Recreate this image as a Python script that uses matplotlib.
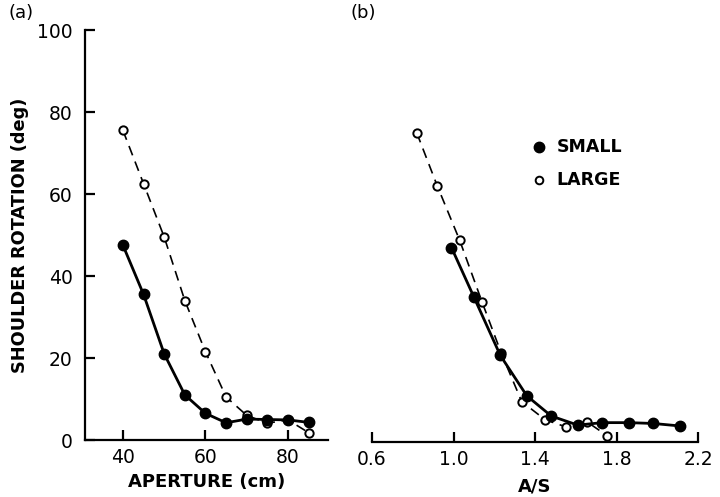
import matplotlib.pyplot as plt

# aperture (cm) for both shoulder groups
aperture = [40, 45, 50, 55, 60, 65, 70, 75, 80, 85]
small_rot = [47.5, 35.5, 21, 11, 6.5, 4.2, 5.1, 5.0, 4.9, 4.3]
large_rot = [75.5, 62.5, 49.5, 34, 21.5, 10.5, 6.0, 4.1, 4.9, 1.8]

# aperture / shoulder width
small_as = [0.99, 1.10, 1.23, 1.36, 1.48, 1.61, 1.73, 1.86, 1.98, 2.11]
large_as = [0.82, 0.92, 1.03, 1.14, 1.235, 1.335, 1.45, 1.55, 1.655, 1.755]
small_rot_as = [47.2, 35.2, 21, 11.2, 6.3, 4.1, 4.7, 4.7, 4.5, 3.9]
large_rot_as = [75, 62.2, 49, 34, 21.5, 9.8, 5.4, 3.7, 4.9, 1.5]

yticks = [0, 20, 40, 60, 80, 100]
xticks_a = [40, 60, 80]
xticks_b = [0.6, 1.0, 1.4, 1.8, 2.2]
xticklabels_b = ["0.6", "1.0", "1.4", "1.8", "2.2"]

plt.rcParams["font.family"] = ["DejaVu Sans"]
fig = plt.figure(figsize=(7.2, 4.97), dpi=100)
ax1 = fig.add_axes([85 / 720, 57 / 497, 243 / 720, 410 / 497])
ax2 = fig.add_axes([372 / 720, 55 / 497, 326 / 720, 412 / 497])

small_kw = dict(color="black", lw=2.0, marker="o", ms=7.5, mfc="black",
                mec="black", zorder=3, clip_on=False)
large_kw = dict(color="black", lw=1.2, ls=(0, (6, 4)), marker="o", ms=6,
                mfc="white", mec="black", mew=1.4, zorder=2, clip_on=False)

ax1.plot(aperture, large_rot, **large_kw)
ax1.plot(aperture, small_rot, **small_kw)
ax2.plot(large_as, large_rot_as, **large_kw)
ax2.plot(small_as, small_rot_as, **small_kw)

for ax in (ax1, ax2):
    ax.set_ylim(0, 100)
    ax.spines["top"].set_visible(False)
    ax.spines["right"].set_visible(False)
    for s in ax.spines.values():
        s.set_linewidth(1.6)
    ax.tick_params(direction="in", length=7, width=1.6, labelsize=13.5, pad=6)

ax1.set_xlim(30.8, 89.7)
ax1.set_xticks(xticks_a)
ax1.set_yticks(yticks)
ax1.tick_params(axis="y", pad=9)
ax1.set_xlabel("APERTURE (cm)", fontsize=13, fontweight="bold", labelpad=4)
ax1.set_ylabel("SHOULDER ROTATION (deg)", fontsize=12.8, fontweight="bold", labelpad=6)

ax2.set_xlim(0.6, 2.2)
ax2.set_xticks(xticks_b)
ax2.set_xticklabels(xticklabels_b)
ax2.spines["left"].set_visible(False)
ax2.tick_params(axis="y", left=False, labelleft=False)
ax2.set_xlabel("A/S", fontsize=13, fontweight="bold", labelpad=6)

# legend drawn as markers with text
leg_x = 0.6 + (539 - 372) / 326 * 1.6
ax2.plot([leg_x], [71.5], marker="o", ms=7.5, color="black", ls="none", clip_on=False)
ax2.plot([leg_x], [63.7], marker="o", ms=5.5, mfc="white", mec="black", mew=1.4,
         ls="none", clip_on=False)
ax2.text(leg_x + 0.085, 71.5, "SMALL", fontsize=12.5, fontweight="bold", va="center")
ax2.text(leg_x + 0.085, 63.7, "LARGE", fontsize=12.5, fontweight="bold", va="center")

fig.text(8 / 720, 1 - 13 / 497, "(a)", fontsize=13, va="center")
fig.text(350 / 720, 1 - 13 / 497, "(b)", fontsize=13, va="center")

fig.savefig("out.png", dpi=100)
